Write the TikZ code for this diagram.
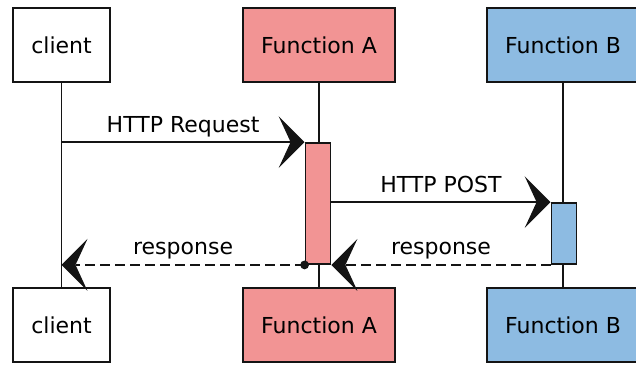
\documentclass[tikz,border=0pt]{standalone}
\usepackage{fontspec}
\setmainfont{DejaVu Sans}
\usetikzlibrary{arrows.meta}

\definecolor{fnApink}{RGB}{242,148,148}
\definecolor{fnBblue}{RGB}{141,187,226}
\definecolor{inkline}{RGB}{20,20,20}

\tikzset{
  actor/.style={draw=inkline, line width=1.4pt, minimum width=76pt, minimum height=37pt,
    inner sep=0pt, font=\fontsize{11}{13}\selectfont},
  clientbox/.style={actor, fill=white, minimum width=48.5pt},
  fnAbox/.style={actor, fill=fnApink},
  fnBbox/.style={actor, fill=fnBblue},
  activation/.style={draw=inkline, line width=0.9pt, minimum width=12.5pt, inner sep=0pt},
  lifeline/.style={draw=inkline, line width=0.7pt},
  bigbarb/.tip={Stealth[length=13pt, width=26pt, inset=6pt, line width=0pt]},
  callmsg/.style={draw=inkline, line width=1.1pt, -bigbarb},
  replymsg/.style={draw=inkline, line width=1.1pt, -bigbarb, dash pattern=on 5pt off 2.5pt},
  msglabel/.style={midway, anchor=base, yshift=5pt, inner sep=0pt, font=\fontsize{11}{13}\selectfont}
}

\begin{document}
\begin{tikzpicture}[x=0.5pt, y=-0.5pt]
  \useasboundingbox (0,0) rectangle (636,366);
  \clip (0,0) rectangle (636,366);

  % participants, top row
  \node[clientbox] (clientTop) at (61.5,45) {client};
  \node[fnAbox]    (fnATop)    at (319,45)  {Function A};
  \node[fnBbox]    (fnBTop)    at (563,45)  {Function B};

  % participants, bottom row
  \node[clientbox] (clientBot) at (61.5,325) {client};
  \node[fnAbox]    (fnABot)    at (319,325)  {Function A};
  \node[fnBbox]    (fnBBot)    at (563,325)  {Function B};

  % lifelines
  \draw[lifeline] (clientTop.south) -- (clientBot.north);
  \draw[lifeline] (fnATop.south) -- (fnABot.north);
  \draw[lifeline] (fnBTop.south) -- (fnBBot.north);

  % activation bars
  \node[activation, fill=fnApink, minimum height=60.5pt] (actA) at (318,203.5) {};
  \node[activation, fill=fnBblue, minimum height=30.5pt] (actB) at (564,233.5) {};

  % calls
  \draw[callmsg] (actA.north west -| clientTop.south) -- (actA.north west)
    node[msglabel] {HTTP Request};
  \draw[callmsg] (actB.north west -| actA.east) -- (actB.north west)
    node[msglabel] {HTTP POST};

  % replies
  \draw[replymsg] (actB.south west) -- (actB.south west -| actA.east)
    node[msglabel] {response};
  \draw[replymsg] (actA.south west) -- (actA.south west -| clientTop.south)
    node[msglabel] {response};
  \fill[inkline] (actA.south west) circle (2.2pt);
\end{tikzpicture}
\end{document}
